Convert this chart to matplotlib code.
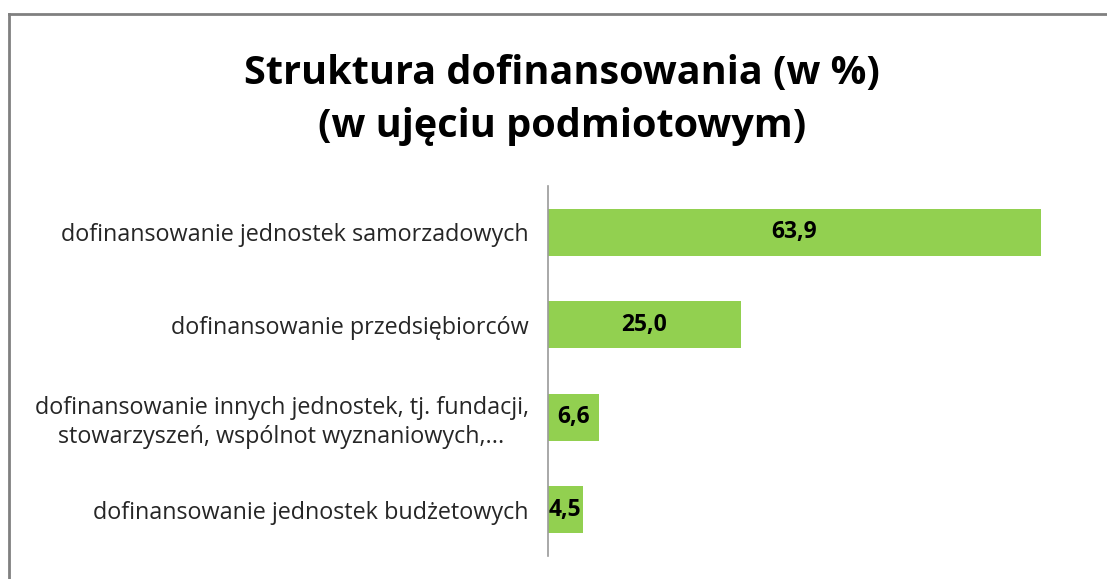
import matplotlib
matplotlib.use("Agg")
import matplotlib.pyplot as plt
from matplotlib.lines import Line2D

categories = [
    "dofinansowanie jednostek samorzadowych",
    "dofinansowanie przedsiębiorców",
    "dofinansowanie innych jednostek, tj. fundacji,\nstowarzyszeń, wspólnot wyznaniowych,...",
    "dofinansowanie jednostek budżetowych",
]
values = [63.9, 25.0, 6.6, 4.5]
value_labels = ["63,9", "25,0", "6,6", "4,5"]
title = "Struktura dofinansowania (w %)\n(w ujęciu podmiotowym)"

plt.rcParams['font.family'] = ['Open Sans', 'DejaVu Sans']

W, H = 1107, 579
fig = plt.figure(figsize=(W / 100, H / 100), dpi=100)
ax = fig.add_axes([548 / W, 1 - 556 / H, (1088 - 548) / W, (556 - 186) / H])

ypos = list(range(len(categories)))
ax.barh(ypos, values, height=0.505, color="#92D050")
ax.set_xlim(0, 70)
ax.set_ylim(len(categories) - 0.5, -0.5)
ax.set_yticks(ypos)
ax.set_yticklabels(categories, fontsize=16.8, color="#262626", multialignment="center",
                   linespacing=1.25)
ax.tick_params(axis="y", length=0, pad=14)
ax.set_xticks([])
for s in ["top", "right", "bottom"]:
    ax.spines[s].set_visible(False)
ax.spines["left"].set_color("#9a9a9a")
ax.spines["left"].set_linewidth(1.2)

for y, v, lab in zip(ypos, values, value_labels):
    ax.text(v / 2, y, lab, ha="center", va="center", fontsize=16.5,
            fontweight="bold", color="black")

fig.text(562 / W, 1 - 100 / H, title, ha="center", va="center", fontsize=28.5,
         fontweight="bold", color="black", linespacing=1.5)

# outer chart frame (partially visible)
fig.add_artist(Line2D([9 / W, 9 / W], [0, 1 - 14 / H], transform=fig.transFigure,
                      color="#808080", lw=2))
fig.add_artist(Line2D([9 / W, 1], [1 - 14 / H, 1 - 14 / H], transform=fig.transFigure,
                      color="#808080", lw=2))

fig.savefig("out.png", dpi=100, facecolor="white")
